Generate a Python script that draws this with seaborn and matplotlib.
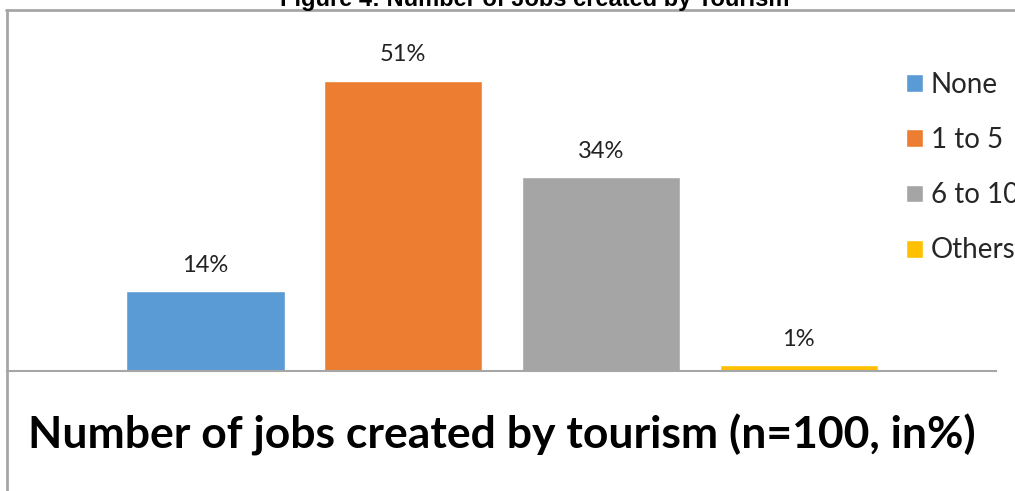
import matplotlib
matplotlib.use("Agg")
import matplotlib.pyplot as plt
from matplotlib.lines import Line2D
import seaborn as sns
import pandas as pd

# Survey results: jobs created by tourism
categories = ["None", "1 to 5", "6 to 10", "Others"]
values = [14, 51, 34, 1]
colors = ["#5B9BD5", "#ED7D31", "#A5A5A5", "#FFC000"]

sns.set_theme(style="white")
plt.rcParams["font.family"] = ["Lato", "DejaVu Sans"]

W, H = 1015, 491
fig = plt.figure(figsize=(W / 100, H / 100), dpi=100)
fig.patch.set_facecolor("white")

# plot area in pixel coordinates: x 7..996, y 10..371 (from top)
ax = fig.add_axes([7 / W, 1 - 371 / H, (996 - 7) / W, (371 - 10) / H])

df = pd.DataFrame({"category": categories, "value": values})
sns.barplot(data=df, x="category", y="value", hue="category",
            palette=colors, order=categories, hue_order=categories,
            width=0.8, dodge=False, saturation=1, legend=True, ax=ax)

ax.set_xlim(-1.004, 3.998)
ax.set_ylim(0, 63.4)
ax.set_xlabel("")
ax.set_ylabel("")
ax.set_xticks([])
ax.set_yticks([])
for side in ["top", "left", "right"]:
    ax.spines[side].set_visible(False)
ax.spines["bottom"].set_color("#A6A6A6")
ax.spines["bottom"].set_linewidth(1.5)
ax.patch.set_alpha(0)

# value labels above bars
for container in ax.containers:
    ax.bar_label(container, labels=[f"{v:.0f}%" for v in container.datavalues],
                 padding=11, fontsize=17, color="#222222")

# legend on the right
handles, labels = ax.get_legend_handles_labels()
ax.legend(handles, labels, loc="upper left",
          bbox_to_anchor=(906 / W, 1 - 72 / H), bbox_transform=fig.transFigure,
          frameon=False, fontsize=20, handlelength=0.61, handleheight=0.61,
          handletextpad=0.28, labelspacing=1.05, borderpad=0, borderaxespad=0)

# chart frame lines (top and left)
frame_kw = dict(color="#A6A6A6", lw=2, transform=fig.transFigure)
fig.add_artist(Line2D([6 / W, 1.0], [1 - 10 / H, 1 - 10 / H], **frame_kw))
fig.add_artist(Line2D([7 / W, 7 / W], [1 - 10 / H, 0.0], **frame_kw))

# figure caption above the chart frame
fig.text(535 / W, 1 - 6 / H, "Figure 4: Number of Jobs created by Tourism",
         ha="center", va="baseline", fontsize=17, fontweight="bold",
         family=["Liberation Sans", "DejaVu Sans"], color="black")

# chart title below the bars
fig.text(502 / W, 1 - 448 / H, "Number of jobs created by tourism (n=100, in%)",
         ha="center", va="baseline", fontsize=32, fontweight="bold",
         color="black")

fig.savefig("out.png", dpi=100, facecolor="white")
